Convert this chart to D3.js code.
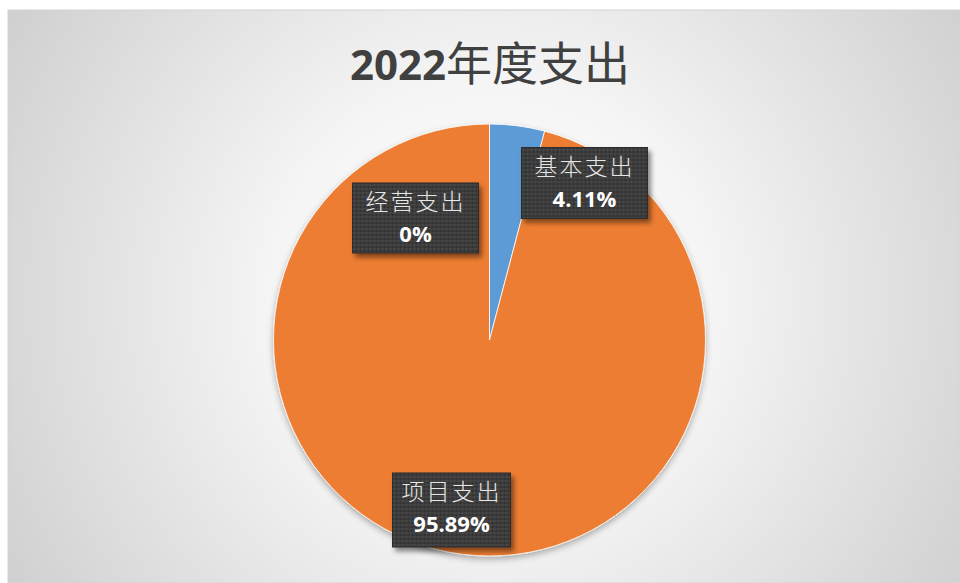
<!DOCTYPE html>
<html>
<head>
<meta charset="utf-8">
<script src="https://cdn.jsdelivr.net/npm/d3@7"></script>
<style>
  html, body { margin: 0; padding: 0; background: #ffffff; }
  svg { display: block; }
</style>
</head>
<body>
<div id="chart"></div>
<script>
// Expenditure breakdown for 2022
const title = "2022年度支出";
const categories = ["基本支出", "经营支出", "项目支出"];
const shares = [4.11, 0, 95.89];
const percentLabels = ["4.11%", "0%", "95.89%"];
const colors = ["#5B9BD5", "#A5A5A5", "#ED7D31"];

const W = 960, H = 583;
const cx = 489.5, cy = 340, R = 216;

// label box placement relative to the pie centre (dx, dy, width, height)
const labelLayout = [
  { dx: 95, dy: -157, w: 126, h: 71 },
  { dx: -74, dy: -122, w: 126, h: 70 },
  { dx: -38, dy: 170, w: 118, h: 74 }
];

const svg = d3.select("#chart").append("svg")
  .attr("width", W).attr("height", H);

const defs = svg.append("defs");

const bg = defs.append("radialGradient").attr("id", "bg")
  .attr("gradientUnits", "userSpaceOnUse")
  .attr("cx", 490).attr("cy", 300).attr("r", 620);
bg.append("stop").attr("offset", "0%").attr("stop-color", "#ffffff");
bg.append("stop").attr("offset", "35%").attr("stop-color", "#f5f5f5");
bg.append("stop").attr("offset", "100%").attr("stop-color", "#c9c9c9");

const pat = defs.append("pattern").attr("id", "dots")
  .attr("patternUnits", "userSpaceOnUse").attr("width", 4).attr("height", 4);
pat.append("rect").attr("width", 4).attr("height", 4).attr("fill", "#3d3d3d");
pat.append("circle").attr("cx", 1).attr("cy", 1).attr("r", 0.9).attr("fill", "#2a2a2a");
pat.append("circle").attr("cx", 3).attr("cy", 3).attr("r", 0.9).attr("fill", "#4a4a4a");

const pieShadow = defs.append("filter").attr("id", "pieShadow")
  .attr("x", "-20%").attr("y", "-20%").attr("width", "140%").attr("height", "140%");
pieShadow.append("feDropShadow").attr("dx", 0).attr("dy", 3).attr("stdDeviation", 3)
  .attr("flood-color", "#000").attr("flood-opacity", 0.3);

const boxShadow = defs.append("filter").attr("id", "boxShadow")
  .attr("x", "-20%").attr("y", "-20%").attr("width", "140%").attr("height", "150%");
boxShadow.append("feDropShadow").attr("dx", 3).attr("dy", 4).attr("stdDeviation", 2.5)
  .attr("flood-color", "#000").attr("flood-opacity", 0.45);

// chart area
svg.append("rect").attr("x", 8).attr("y", 10).attr("width", W - 8).attr("height", H - 10)
  .attr("fill", "url(#bg)").attr("stroke", "#d4d4d4").attr("stroke-width", 1);

// title
const t = svg.append("text")
  .attr("x", 490).attr("y", 80)
  .attr("text-anchor", "middle")
  .attr("fill", "#404040");
t.append("tspan").text(title.slice(0, 4))
  .attr("font-family", "'Open Sans', 'Noto Sans', sans-serif")
  .attr("font-weight", 700).attr("font-size", 42);
t.append("tspan").text(title.slice(4))
  .attr("font-family", "'Noto Sans CJK SC', sans-serif")
  .attr("font-weight", 400).attr("font-size", 46);

// pie
const pie = d3.pie().value(d => d).sort(null);
const arcs = pie(shares);
const arc = d3.arc().innerRadius(0).outerRadius(R);

const g = svg.append("g").attr("transform", `translate(${cx},${cy})`);
g.append("g").attr("filter", "url(#pieShadow)")
  .selectAll("path").data(arcs).join("path")
  .attr("d", arc)
  .attr("fill", (d, i) => colors[i])
  .attr("stroke", "#ffffff")
  .attr("stroke-width", d => d.endAngle - d.startAngle > 0 ? 0.8 : 0);

// data labels
const labels = g.selectAll("g.lbl").data(arcs).join("g")
  .attr("class", "lbl")
  .attr("transform", (d, i) => `translate(${labelLayout[i].dx},${labelLayout[i].dy})`);

labels.append("rect")
  .attr("x", (d, i) => -labelLayout[i].w / 2)
  .attr("y", (d, i) => -labelLayout[i].h / 2)
  .attr("width", (d, i) => labelLayout[i].w)
  .attr("height", (d, i) => labelLayout[i].h)
  .attr("fill", "url(#dots)")
  .attr("stroke", "#2e2e2e").attr("stroke-width", 1)
  .attr("filter", "url(#boxShadow)");

labels.append("text")
  .attr("y", (d, i) => -labelLayout[i].h / 2 + 27)
  .attr("text-anchor", "middle")
  .attr("font-family", "'Noto Sans CJK SC', sans-serif")
  .attr("font-weight", 300)
  .attr("font-size", 23)
  .attr("letter-spacing", 2)
  .attr("fill", "#e6e6e6")
  .text((d, i) => categories[i]);

labels.append("text")
  .attr("y", (d, i) => -labelLayout[i].h / 2 + 59)
  .attr("text-anchor", "middle")
  .attr("font-family", "'Open Sans', 'Noto Sans', sans-serif")
  .attr("font-weight", 700)
  .attr("font-size", 22)
  .attr("fill", "#ffffff")
  .text((d, i) => percentLabels[i]);
</script>
</body>
</html>
